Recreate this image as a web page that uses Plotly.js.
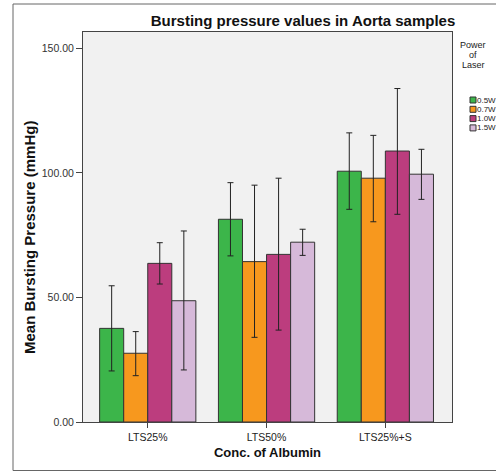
<!DOCTYPE html>
<html>
<head>
<meta charset="utf-8">
<script src="https://cdn.plot.ly/plotly-3.0.1.min.js"></script>
<style>html,body{margin:0;padding:0;background:#fff;overflow:hidden;}#chart{width:496px;height:472px;}</style>
</head>
<body>
<div id="chart"></div>
<script>
// ---- data ----
const categories = ['LTS25%', 'LTS50%', 'LTS25%+S'];
const seriesNames = ['0.5W', '0.7W', '1.0W', '1.5W'];
const mean05 = [37.6, 81.4, 100.7];
const upper05 = [54.7, 96.1, 116.1];
const lower05 = [20.5, 66.7, 85.4];
const mean07 = [27.6, 64.4, 97.9];
const upper07 = [36.3, 95.1, 115.1];
const lower07 = [18.6, 34.0, 80.4];
const mean10 = [63.7, 67.3, 108.8];
const upper10 = [72.0, 97.9, 133.9];
const lower10 = [55.4, 36.9, 83.4];
const mean15 = [48.7, 72.2, 99.5];
const upper15 = [76.7, 77.4, 109.5];
const lower15 = [20.9, 66.9, 89.4];
const yTickVals = [0, 50, 100, 150];
const yTickText = ['0.00', '50.00', '100.00', '150.00'];
const legendTitleLines = ['Power', 'of', 'Laser'];

// ---- styling ----
const colors = ['#3cb54a', '#f7981e', '#bc3d7e', '#d6b9d9'];
const FONT = 'Arial, "Liberation Sans", sans-serif';
const W = 496, H = 472;
const M = {l: 83, r: 44, t: 32, b: 50};
const plotW = W - M.l - M.r, plotH = H - M.t - M.b;
const px2x = p => (p - M.l) / plotW;
const px2y = p => (H - M.b - p) / plotH;

const means = [mean05, mean07, mean10, mean15];
const uppers = [upper05, upper07, upper10, upper15];
const lowers = [lower05, lower07, lower10, lower15];

const traces = seriesNames.map((name, i) => ({
  type: 'bar',
  name: name,
  x: categories,
  y: means[i],
  marker: {color: colors[i], line: {color: '#333', width: 1}},
  error_y: {
    type: 'data', symmetric: false,
    array: uppers[i].map((u, k) => u - means[i][k]),
    arrayminus: lowers[i].map((l, k) => means[i][k] - l),
    color: '#222', thickness: 1, width: 3
  },
  showlegend: false,
  hoverinfo: 'x+y+name'
}));

const annotations = [];
const shapes = [];
// y axis title
annotations.push({
  text: 'Mean Bursting Pressure (mmHg)', textangle: -90,
  xref: 'paper', yref: 'paper', x: px2x(29), y: px2y(238),
  xanchor: 'center', yanchor: 'middle', showarrow: false,
  font: {family: FONT, size: 15, color: '#111', weight: 'bold'}
});
// custom legend title
legendTitleLines.forEach((t, i) => {
  annotations.push({
    text: t, xref: 'paper', yref: 'paper', x: px2x(473), y: px2y(45 + i * 10),
    xanchor: 'center', yanchor: 'middle', showarrow: false, borderpad: 0,
    font: {family: FONT, size: 9, color: '#222'}
  });
});
// custom legend items
seriesNames.forEach((name, i) => {
  const cy = 100 + i * 9.3;
  shapes.push({
    type: 'rect', xref: 'paper', yref: 'paper',
    x0: px2x(470), x1: px2x(476), y0: px2y(cy - 3), y1: px2y(cy + 3),
    fillcolor: colors[i], line: {color: '#333', width: 1}
  });
  annotations.push({
    text: name, xref: 'paper', yref: 'paper', x: px2x(476.5), y: px2y(cy),
    xanchor: 'left', yanchor: 'middle', showarrow: false, borderpad: 0, borderwidth: 0,
    font: {family: FONT, size: 8, color: '#222'}
  });
});
// outer image frame
const lineStyle = {color: '#666', width: 1};
shapes.push({type: 'line', xref: 'paper', yref: 'paper', x0: px2x(13), x1: px2x(13), y0: px2y(4), y1: px2y(470.5), line: lineStyle});
shapes.push({type: 'line', xref: 'paper', yref: 'paper', x0: px2x(13), x1: px2x(496), y0: px2y(4), y1: px2y(4), line: lineStyle});
shapes.push({type: 'line', xref: 'paper', yref: 'paper', x0: px2x(13), x1: px2x(496), y0: px2y(470.5), y1: px2y(470.5), line: lineStyle});

const layout = {
  width: W, height: H, autosize: false,
  margin: M,
  paper_bgcolor: '#ffffff',
  plot_bgcolor: '#f1f1f1',
  barmode: 'group', bargap: 0.19, bargroupgap: 0,
  showlegend: false,
  title: {
    text: 'Bursting pressure values in Aorta samples',
    x: 303 / W, xanchor: 'center', xref: 'container',
    y: 1 - 21 / H, yanchor: 'middle', yref: 'container',
    font: {family: FONT, size: 15, color: '#111', weight: 'bold'}
  },
  xaxis: {
    type: 'category', range: [-0.545, 2.561],
    showline: true, linecolor: '#444', linewidth: 1, mirror: true,
    ticks: 'outside', ticklen: 5, tickcolor: '#444',
    tickfont: {family: FONT, size: 10.5, color: '#222'},
    showgrid: false, zeroline: false,
    title: {text: 'Conc. of Albumin', standoff: 6,
      font: {family: FONT, size: 13, color: '#111', weight: 'bold'}},
    automargin: false
  },
  yaxis: {
    range: [0, 156.6],
    tickvals: yTickVals, ticktext: yTickText,
    showline: true, linecolor: '#444', linewidth: 1, mirror: true,
    ticks: 'outside', ticklen: 6, tickcolor: '#444',
    tickfont: {family: FONT, size: 10.5, color: '#333'},
    showgrid: false, zeroline: false,
    automargin: false
  },
  annotations: annotations,
  shapes: shapes
};

Plotly.newPlot('chart', traces, layout, {displayModeBar: false, staticPlot: true});
</script>
</body>
</html>
